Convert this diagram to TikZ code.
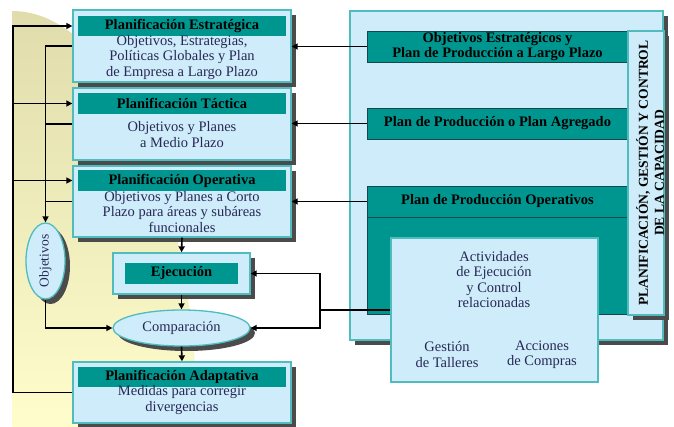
\documentclass[tikz,border=0pt]{standalone}
\usepackage{fontspec}
\setmainfont{Liberation Serif}
\usetikzlibrary{arrows.meta,shapes.geometric,shadows}
\definecolor{tealc}{RGB}{0,150,144}
\definecolor{lblue}{RGB}{206,236,250}
\definecolor{bord}{RGB}{80,188,190}
\definecolor{shad}{RGB}{75,75,75}
\definecolor{txt}{RGB}{40,40,85}
\definecolor{khaki}{RGB}{224,220,172}
\definecolor{pyellow}{RGB}{255,253,204}
\definecolor{tealdark}{RGB}{25,70,70}
\begin{document}
\begin{tikzpicture}[x=1pt,y=-1pt,
  font=\fontsize{14.5}{15.5}\selectfont,
  sh/.style={drop shadow={shadow xshift=5pt,shadow yshift=-5pt,opacity=1,fill=shad}},
  boxns/.style={draw=bord,line width=1.3pt,fill=lblue,inner sep=0pt},
  box/.style={boxns,sh},
  hdr/.style={fill=tealc,inner sep=0pt,font=\fontsize{14.5}{15.5}\selectfont\bfseries,text=black},
  body/.style={text=txt,align=center,inner sep=0pt},
  tbox/.style={fill=tealc,draw=tealdark,line width=0.8pt,inner sep=0pt,font=\fontsize{14.5}{15}\selectfont\bfseries,text=black,align=center},
  arr/.style={line width=1.6pt,-{Triangle[length=6pt,width=6pt]}},
  ln/.style={line width=1.6pt},
]
\useasboundingbox (0,0) rectangle (674,427);
% background
\shade[top color=khaki,bottom color=pyellow] (12,11) .. controls (114,11) and (197,197) .. (197,427) -- (12,427) -- cycle;

% right side
\node[box, minimum width=313pt, minimum height=329pt] (big) at (506.5,175.5) {};
\node[tbox, minimum width=261pt, minimum height=31pt] (pa) at (497.5,46.5) {Objetivos Estratégicos y\\Plan de Producción a Largo Plazo};
\node[tbox, minimum width=261pt, minimum height=31pt] (pb) at (497.5,123.5) {Plan de Producción o Plan Agregado};
\node[tbox, minimum width=261pt, minimum height=128pt] (pc) at (497.5,250) {};
\node[tbox, minimum width=261pt, minimum height=31pt] (pch) at (497.5,201.5) {Plan de Producción Operativos};
\node[box, minimum width=36pt, minimum height=284pt] (lab) at (646,173) {};
\node[rotate=90, font=\fontsize{13.6}{16}\selectfont\bfseries, align=center, text=black, inner sep=0pt] (labt) at (650,173) {PLANIFICACIÓN, GESTIÓN Y CONTROL\\DE LA CAPACIDAD};
\node[boxns, minimum width=207pt, minimum height=144pt] (act) at (494.5,310) {};
\node[body] (actt) at (494,279.5) {Actividades\\de Ejecución\\y Control\\relacionadas};
\node[body] (gest) at (447,354.5) {Gestión\\de Talleres};
\node[body] (acc) at (542,354.5) {Acciones\\de Compras};

% left side
\node[box, minimum width=218pt, minimum height=72pt] (estr) at (182,46) {};
\node[hdr, minimum width=208pt, minimum height=20pt] (estrh) at (182,26) {Planificación Estratégica};
\node[body] (estrb) at (182,57.5) {Objetivos, Estrategias,\\Políticas Globales y Plan\\de Empresa a Largo Plazo};

\node[box, minimum width=218pt, minimum height=72pt] (tact) at (182,124) {};
\node[hdr, minimum width=208pt, minimum height=21pt] (tacth) at (182,103.5) {Planificación Táctica};
\node[body] (tactb) at (182,134.5) {Objetivos y Planes\\a Medio Plazo};

\node[box, minimum width=218pt, minimum height=71pt] (oper) at (182,201.5) {};
\node[hdr, minimum width=208pt, minimum height=21pt] (operh) at (182,180.5) {Planificación Operativa};
\node[body] (operb) at (182,212) {Objetivos y Planes a Corto\\Plazo para áreas y subáreas\\funcionales};

\node[box, minimum width=137pt, minimum height=41pt] (ejec) at (181.5,273.5) {};
\node[hdr, minimum width=113pt, minimum height=21pt] (ejech) at (181.5,273.5) {Ejecución};

\node[ellipse, draw=bord, fill=lblue, line width=1.3pt, minimum width=137pt, minimum height=36pt, inner sep=0pt, sh, text=txt] (comp) at (181.5,328) {Comparación};

\node[box, minimum width=218pt, minimum height=61pt] (adap) at (182,392.5) {};
\node[hdr, minimum width=208pt, minimum height=20pt] (adaph) at (182,377) {Planificación Adaptativa};
\node[body] (adapb) at (182,400) {Medidas para corregir\\divergencias};

\node[ellipse, draw=bord, fill=lblue, line width=1.3pt, minimum width=39pt, minimum height=76pt, inner sep=0pt, sh] (obj) at (45.5,261) {};
\node[rotate=90, text=txt, inner sep=0pt, font=\fontsize{13.5}{14}\selectfont] (objt) at (45.5,261) {Objetivos};

% connectors
\coordinate (L) at (13,392.5);
\draw[arr] (adap.west) -- (L) |- (estrh.west -| estr.west);
\draw[arr] (L |- tacth) -- (tacth.west -| tact.west);
\draw[arr] (L |- operh) -- (operh.west -| oper.west);

\draw[arr] (estr.west) -| (obj.north);
\draw[ln] (tact.west) -- (tact.west -| obj.north);
\draw[ln] (oper.west) -- (oper.west -| obj.north);
\draw[arr] (obj.south) |- (comp.west);

\draw[arr] (oper.south) -- (ejec.north);
\draw[arr] (ejec.south) -- (comp.north);
\draw[arr] (comp.south) -- (adap.north);

\draw[arr] (pa.west) -- (pa.west -| estr.east);
\draw[arr] (pb.west) -- (pb.west -| tact.east);
\draw[arr] (pch.west) -- (pch.west -| oper.east);

\coordinate (J) at (320,310);
\draw[ln] (act.west) -- (J);
\draw[arr] (J) |- (ejec.east);
\draw[arr] (J) |- (comp.east);
\end{tikzpicture}
\end{document}
